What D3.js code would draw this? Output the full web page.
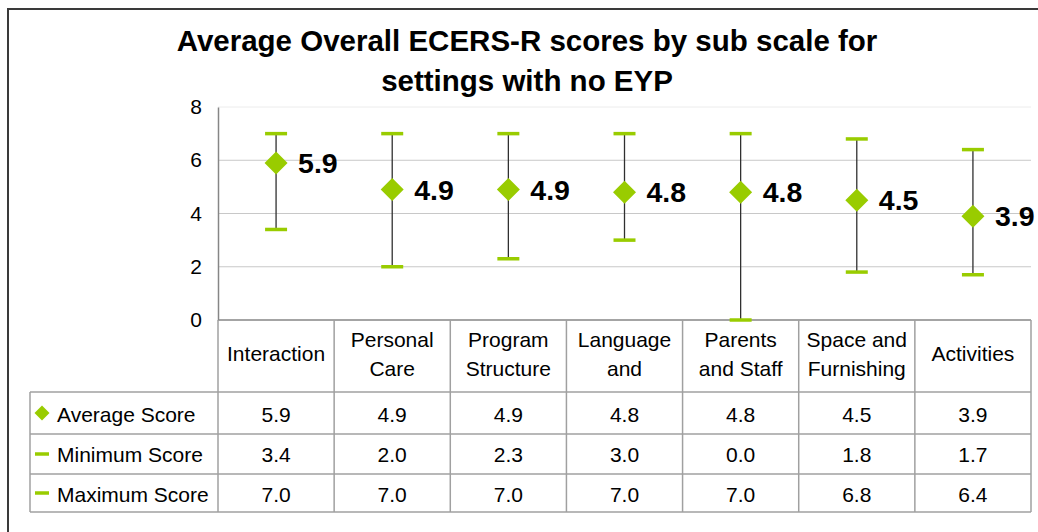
<!DOCTYPE html>
<html>
<head>
<meta charset="utf-8">
<script src="https://cdn.jsdelivr.net/npm/d3@7"></script>
<style>
  body { margin: 0; background: #fff; }
  svg text { font-family: "Liberation Sans", Arial, sans-serif; fill: #000; }
</style>
</head>
<body>
<div id="chart"></div>
<script>
// sub scales, two-line labels as shown in the header row
const categories = [
  ['Interaction'],
  ['Personal', 'Care'],
  ['Program', 'Structure'],
  ['Language', 'and'],
  ['Parents', 'and Staff'],
  ['Space and', 'Furnishing'],
  ['Activities']
];
const averageScore = [5.9, 4.9, 4.9, 4.8, 4.8, 4.5, 3.9];
const minimumScore = [3.4, 2.0, 2.3, 3.0, 0.0, 1.8, 1.7];
const maximumScore = [7.0, 7.0, 7.0, 7.0, 7.0, 6.8, 6.4];
const seriesNames = ['Average Score', 'Minimum Score', 'Maximum Score'];
const yTicks = [0, 2, 4, 6, 8];
const titleLines = ['Average Overall ECERS-R scores by sub scale for', 'settings with no EYP'];

const width = 1038;
const height = 532;
const green = '#99cc00';
const plotLeft = 218, plotRight = 1031, plotTop = 107, plotBottom = 320;
const tableLeft = 30;
const rowBottoms = [392, 434, 474, 512];

const svg = d3.select('#chart')
  .append('svg')
  .attr('width', width)
  .attr('height', height);

// outer frame
svg.append('rect')
  .attr('x', 8).attr('y', 9)
  .attr('width', width + 10).attr('height', height + 10)
  .attr('fill', 'none')
  .attr('stroke', '#3a3a3a')
  .attr('stroke-width', 2);

// title
svg.append('text')
  .attr('text-anchor', 'middle')
  .style('font-size', '29.5px')
  .style('font-weight', 'bold')
  .selectAll('tspan')
  .data(titleLines)
  .join('tspan')
  .attr('x', 527)
  .attr('y', (d, i) => 51 + i * 40)
  .text(d => d);

const xScale = d3.scaleBand()
  .domain(d3.range(categories.length))
  .range([plotLeft, plotRight]);

const yScale = d3.scaleLinear()
  .domain([0, 8])
  .range([plotBottom, plotTop]);

// grid lines
svg.append('g')
  .selectAll('line')
  .data(yTicks.filter(t => t > 0))
  .join('line')
  .attr('x1', plotLeft).attr('x2', plotRight)
  .attr('y1', d => yScale(d)).attr('y2', d => yScale(d))
  .attr('stroke', d => d === 8 ? '#ececec' : '#c8c8c8')
  .attr('stroke-width', 1);

// y axis
const yAxis = svg.append('g')
  .attr('transform', `translate(${plotLeft},0)`)
  .call(d3.axisLeft(yScale).tickValues(yTicks).tickSize(0).tickPadding(16));
yAxis.select('.domain').attr('stroke', '#868686').attr('stroke-width', 1.5);
yAxis.selectAll('text')
  .style('font-size', '21px')
  .style('font-family', '"Liberation Sans", Arial, sans-serif');

// table lines
const tableColor = '#a0a0a0';
const table = svg.append('g');
// axis / top of header row
table.append('line')
  .attr('x1', plotLeft).attr('x2', plotRight)
  .attr('y1', plotBottom).attr('y2', plotBottom)
  .attr('stroke', '#868686').attr('stroke-width', 1.5);
// header bottom and row lines
table.selectAll('line.row')
  .data(rowBottoms)
  .join('line')
  .attr('class', 'row')
  .attr('x1', tableLeft).attr('x2', plotRight)
  .attr('y1', d => d).attr('y2', d => d)
  .attr('stroke', tableColor).attr('stroke-width', 1.5);
// column separators
const colEdges = d3.range(categories.length + 1).map(i => plotLeft + i * xScale.bandwidth());
table.selectAll('line.col')
  .data(colEdges)
  .join('line')
  .attr('class', 'col')
  .attr('x1', d => d).attr('x2', d => d)
  .attr('y1', plotBottom).attr('y2', rowBottoms[3])
  .attr('stroke', tableColor).attr('stroke-width', 1.5);
table.append('line')
  .attr('x1', tableLeft).attr('x2', tableLeft)
  .attr('y1', rowBottoms[0]).attr('y2', rowBottoms[3])
  .attr('stroke', tableColor).attr('stroke-width', 1.5);

// category header labels
const cx = i => xScale(i) + xScale.bandwidth() / 2;
svg.append('g')
  .selectAll('text')
  .data(categories)
  .join('text')
  .attr('text-anchor', 'middle')
  .style('font-size', '21px')
  .each(function (lines, i) {
    const startY = lines.length === 1 ? 361 : 347;
    d3.select(this).selectAll('tspan')
      .data(lines)
      .join('tspan')
      .attr('x', cx(i))
      .attr('y', (d, j) => startY + j * 29)
      .text(d => d);
  });

// error bars
const bars = svg.append('g');
bars.selectAll('line.whisker')
  .data(categories)
  .join('line')
  .attr('class', 'whisker')
  .attr('x1', (d, i) => cx(i)).attr('x2', (d, i) => cx(i))
  .attr('y1', (d, i) => yScale(minimumScore[i]))
  .attr('y2', (d, i) => yScale(maximumScore[i]))
  .attr('stroke', '#303030').attr('stroke-width', 1.3);

[minimumScore, maximumScore].forEach(series => {
  bars.append('g')
    .selectAll('line')
    .data(series)
    .join('line')
    .attr('x1', (d, i) => cx(i) - 11).attr('x2', (d, i) => cx(i) + 11)
    .attr('y1', d => yScale(d)).attr('y2', d => yScale(d))
    .attr('stroke', green).attr('stroke-width', 3.5);
});

// average markers
const diamond = (x, y, r) => `M${x},${y - r}L${x + r},${y}L${x},${y + r}L${x - r},${y}Z`;
svg.append('g')
  .selectAll('path')
  .data(averageScore)
  .join('path')
  .attr('d', (d, i) => diamond(cx(i), yScale(d), 11.5))
  .attr('fill', green);

// data labels
svg.append('g')
  .selectAll('text')
  .data(averageScore)
  .join('text')
  .attr('x', (d, i) => cx(i) + 22)
  .attr('y', d => yScale(d) + 10)
  .style('font-size', '28.5px')
  .style('font-weight', 'bold')
  .text(d => d3.format('.1f')(d));

// table rows with legend keys
const rows = [averageScore, minimumScore, maximumScore];
const baselines = [421.5, 461.5, 501.5];
rows.forEach((series, r) => {
  const midY = (rowBottoms[r] + rowBottoms[r + 1]) / 2;
  if (r === 0) {
    svg.append('path').attr('d', diamond(42, midY, 7.5)).attr('fill', green);
  } else {
    svg.append('line')
      .attr('x1', 35).attr('x2', 49)
      .attr('y1', midY).attr('y2', midY)
      .attr('stroke', green).attr('stroke-width', 3.5);
  }
  svg.append('text')
    .attr('x', 57).attr('y', baselines[r])
    .style('font-size', '21px')
    .text(seriesNames[r]);
  svg.append('g')
    .selectAll('text')
    .data(series)
    .join('text')
    .attr('x', (d, i) => cx(i))
    .attr('y', baselines[r])
    .attr('text-anchor', 'middle')
    .style('font-size', '21px')
    .text(d => d3.format('.1f')(d));
});
</script>
</body>
</html>
